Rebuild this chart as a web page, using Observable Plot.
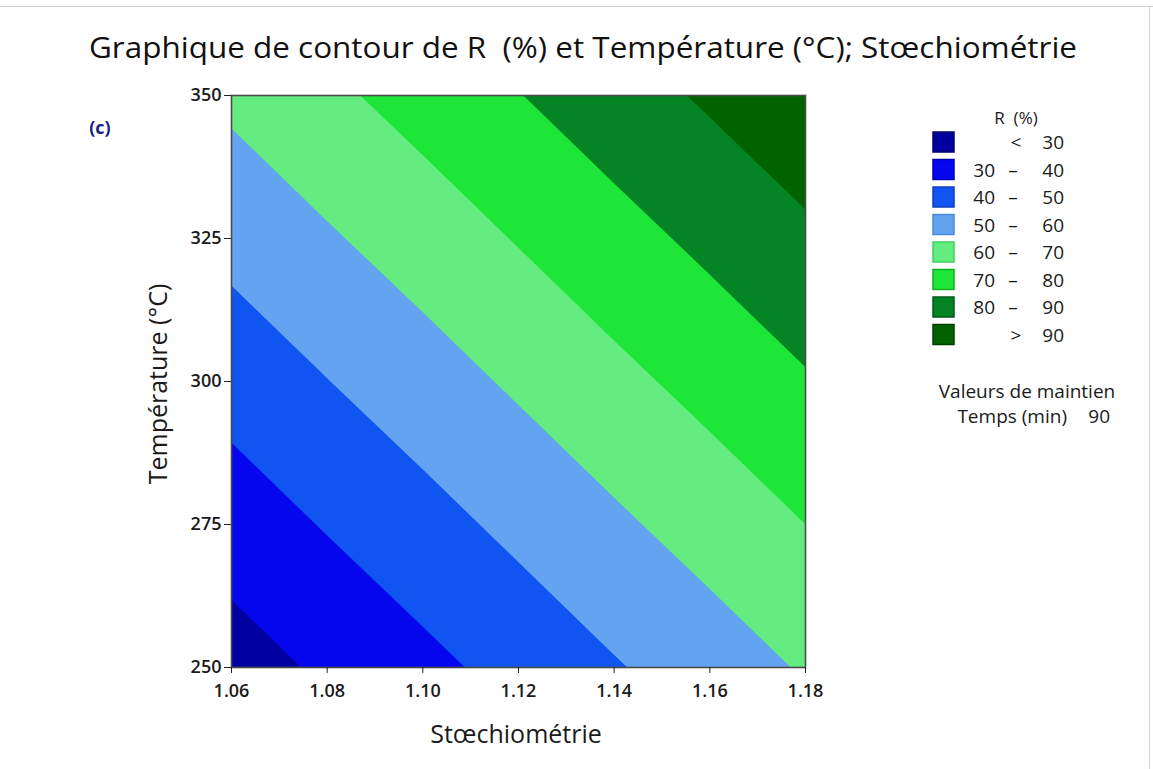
<!DOCTYPE html>
<html><head><meta charset="utf-8">
<script src="https://cdn.jsdelivr.net/npm/d3@7"></script>
<script src="https://cdn.jsdelivr.net/npm/@observablehq/plot@0.6"></script>
<style>
html,body{margin:0;padding:0;background:#fff;}
#chart{width:1153px;height:769px;}
</style></head><body><div id="chart"></div>
<script>
// ---- data ----
const stoechiometrie = [1.06, 1.08, 1.10, 1.12, 1.14, 1.16, 1.18];   // x grid / ticks
const temperature = [250, 275, 300, 325, 350];                      // y grid / ticks
// R (%) estimated at each (temperature row, stœchiométrie column)
const rT250 = [25.7, 31.6, 37.4, 43.3, 49.2, 55.0, 60.9];
const rT275 = [34.8, 40.7, 46.5, 52.4, 58.3, 64.1, 70.0];
const rT300 = [43.9, 49.8, 55.6, 61.5, 67.4, 73.2, 79.1];
const rT325 = [53.0, 58.9, 64.7, 70.6, 76.5, 82.3, 88.2];
const rT350 = [62.1, 68.0, 73.8, 79.7, 85.6, 91.4, 97.1];
const levels = [30, 40, 50, 60, 70, 80, 90];
const bandColors = ["#0000a0", "#0606ee", "#1055f2", "#62a4f0", "#64ec80", "#1ee638", "#058426", "#006300"];
const bandBorders = ["#00006a", "#0000b0", "#0a40c0", "#4a88d8", "#40d060", "#10b020", "#035a18", "#003f00"];
const bandLabels = [["", "<", "30"], ["30", "–", "40"], ["40", "–", "50"], ["50", "–", "60"],
                    ["60", "–", "70"], ["70", "–", "80"], ["80", "–", "90"], ["", ">", "90"]];
const titleText = "Graphique de contour de R  (%) et Température (°C); Stœchiométrie";
const xLabel = "Stœchiométrie";
const yLabel = "Température (°C)";
const legendTitle = "R  (%)";
const holdTitle = "Valeurs de maintien";
const holdName = "Temps (min)";
const holdValue = "90";
const panelTag = "(c)";

const FONT = "'Open Sans', 'Noto Sans', sans-serif";
const grid = [rT250, rT275, rT300, rT325, rT350].flat();
const dS = stoechiometrie[1] - stoechiometrie[0];
const dT = temperature[1] - temperature[0];

const plot = Plot.plot({
  width: 1153, height: 769,
  marginLeft: 231, marginRight: 348, marginTop: 95, marginBottom: 102,
  style: {fontFamily: FONT, fontSize: "18px", color: "#1a1a1a", background: "white", overflow: "visible"},
  x: {domain: [stoechiometrie[0], stoechiometrie[stoechiometrie.length - 1]]},
  y: {domain: [temperature[0], temperature[temperature.length - 1]]},
  color: {type: "threshold", domain: levels, range: bandColors},
  marks: [
    Plot.frame({fill: bandColors[0]}),
    Plot.contour(grid, {
      width: stoechiometrie.length, height: temperature.length,
      x1: stoechiometrie[0] - dS / 2, x2: stoechiometrie[stoechiometrie.length - 1] + dS / 2,
      y1: temperature[0] - dT / 2, y2: temperature[temperature.length - 1] + dT / 2,
      fill: Plot.identity, thresholds: levels, clip: true, stroke: "none"
    }),
    Plot.frame({stroke: "#4a4a4a", strokeWidth: 1.6}),
    Plot.axisX({ticks: stoechiometrie, tickFormat: d3.format(".2f"), tickSize: 6, tickPadding: 11, label: null, fontSize: 18, fontWeight: 600, stroke: "#222"}),
    Plot.axisY({ticks: temperature, tickSize: 7, tickPadding: 3, label: null, fontSize: 18, fontWeight: 600, stroke: "#222"})
  ]
});
document.getElementById("chart").appendChild(plot);

const svg = d3.select(plot);
// outer picture border
svg.append("line").attr("x1", 0).attr("x2", 1153).attr("y1", 6.5).attr("y2", 6.5).attr("stroke", "#d2d2d2");
svg.append("line").attr("x1", 1149.5).attr("x2", 1149.5).attr("y1", 6).attr("y2", 769).attr("stroke", "#d2d2d2");

function txt(s, x, y, opts = {}) {
  const t = svg.append("text").attr("x", x).attr("y", y).text(s)
    .attr("font-family", FONT).attr("font-size", opts.size || 18)
    .attr("fill", opts.fill || "#1a1a1a").attr("text-anchor", opts.anchor || "start");
  if (opts.weight) t.attr("font-weight", opts.weight);
  if (opts.rotate) t.attr("transform", `rotate(${opts.rotate},${x},${y})`);
  if (opts.len) t.attr("textLength", opts.len).attr("lengthAdjust", "spacingAndGlyphs");
  return t;
}
txt(titleText, 583, 58, {size: 30, anchor: "middle", fill: "#111", len: 988});
txt(panelTag, 100, 134, {size: 18, anchor: "middle", fill: "#1a237e", weight: "bold"});
txt(xLabel, 516, 743, {size: 25, anchor: "middle"});
txt(yLabel, 167, 384, {size: 25, anchor: "middle", rotate: -90});

// legend
txt(legendTitle, 1016, 124, {size: 17, anchor: "middle"});
bandLabels.forEach((lab, i) => {
  const cy = 142 + i * 27.5;
  svg.append("rect").attr("x", 933).attr("y", cy - 10).attr("width", 21).attr("height", 20)
    .attr("fill", bandColors[i]).attr("stroke", bandBorders[i]).attr("stroke-width", 1.5);
  if (lab[0]) txt(lab[0], 995, cy + 7, {size: 19, anchor: "end"});
  txt(lab[1], lab[0] ? 1013 : 1016, cy + 7, {size: 19, anchor: "middle"});
  txt(lab[2], 1064, cy + 7, {size: 19, anchor: "end"});
});
txt(holdTitle, 1027, 398, {size: 19, anchor: "middle"});
txt(holdName, 1067, 423, {size: 19, anchor: "end"});
txt(holdValue, 1110, 423, {size: 19, anchor: "end"});
</script></body></html>
